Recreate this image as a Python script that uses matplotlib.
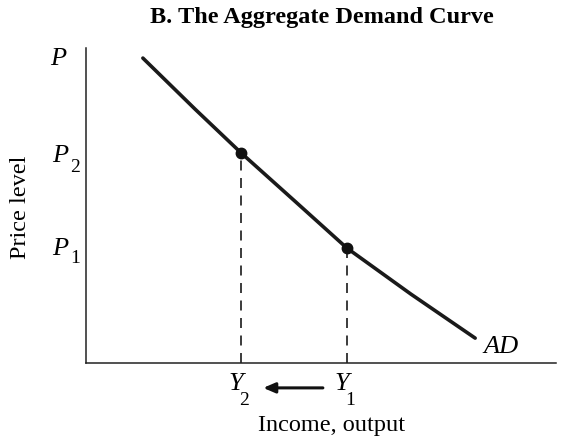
import matplotlib
matplotlib.use("Agg")
import matplotlib.pyplot as plt
from matplotlib import transforms

plt.rcParams["font.family"] = ["Liberation Serif", "DejaVu Serif"]

# Aggregate demand curve (income/output vs. price level), arbitrary units
ad_income = [12.1, 23.2, 33.0, 44.5, 55.5, 69.1, 82.8]
ad_price = [96.8, 80.6, 66.7, 51.3, 36.5, 21.9, 7.9]

# Two equilibrium points on the curve
point_names = ["2", "1"]
point_income = [33.0, 55.5]
point_price = [66.7, 36.5]

title = "B. The Aggregate Demand Curve"
x_label = "Income, output"
y_label = "Price level"

fig = plt.figure(figsize=(5.7, 4.41), dpi=100)
ax = fig.add_axes([86 / 570, 1 - 363 / 441, 470 / 570, 315 / 441])
ax.set_xlim(0, 100)
ax.set_ylim(0, 100)
for side in ("top", "right"):
    ax.spines[side].set_visible(False)
for side in ("left", "bottom"):
    ax.spines[side].set_linewidth(1.1)
    ax.spines[side].set_color("#222222")
ax.set_xticks([])
ax.set_yticks([])

# AD curve
ax.plot(ad_income, ad_price, color="#1a1a1a", lw=2.6, solid_capstyle="round",
        solid_joinstyle="round", zorder=3)

# Points and dashed drop lines
for xi, yi in zip(point_income, point_price):
    ax.plot([xi, xi], [0, yi], color="#1a1a1a", lw=1.2, ls=(0, (6, 4.5)), zorder=2)
ax.plot(point_income, point_price, "o", color="#111111", ms=7.5, zorder=4)

xdata_yaxes = transforms.blended_transform_factory(ax.transData, ax.transAxes)
xaxes_ydata = transforms.blended_transform_factory(ax.transAxes, ax.transData)

LETTER_SIZE = 19
SUB_SIZE = 14


def put(text, xy, coords, dx, dy, size, style="italic", ha="left"):
    ax.annotate(text, xy=xy, xycoords=coords, xytext=(dx, dy),
                textcoords="offset pixels", fontsize=size, fontstyle=style,
                ha=ha, va="baseline", annotation_clip=False)


# Axis-end label P
put("P", (0, 1), "axes fraction", -36, -17, LETTER_SIZE)

# Price labels P2, P1 next to the vertical axis (letter plus lowered subscript)
for name, yi, base, sub in zip(point_names, point_price, [-9, -7], [-19, -15]):
    put("P", (0, yi), xaxes_ydata, -34, base, LETTER_SIZE)
    put(name, (0, yi), xaxes_ydata, -16, sub, SUB_SIZE, style="normal")

# Income labels Y2, Y1 below the horizontal axis
for name, xi in zip(point_names, point_income):
    put("Y", (xi, 0), xdata_yaxes, -5, -27, LETTER_SIZE, ha="center")
    put(name, (xi, 0), xdata_yaxes, -2, -42, SUB_SIZE, style="normal")

# Arrow showing the fall in income from Y1 to Y2
ax.annotate("", xy=(point_income[0] + 4.7, -0.079), xycoords=xdata_yaxes,
            xytext=(point_income[1] - 5.1, -0.079), textcoords=xdata_yaxes,
            arrowprops=dict(arrowstyle="-|>,head_length=0.7,head_width=0.3",
                            color="#111111", lw=2.2, shrinkA=0, shrinkB=0),
            annotation_clip=False)

# Curve label
put("AD", (ad_income[-1], ad_price[-1]), "data", 8, -15, LETTER_SIZE)

# Titles and axis labels
fig.text(322 / 570, 1 - 18 / 441, title, fontsize=17.5, fontweight="bold",
         ha="center", va="center")
fig.text(332 / 570, 1 - 426 / 441, x_label, fontsize=17.5, ha="center", va="center")
fig.text(21 / 570, 1 - 207 / 441, y_label, fontsize=17.5, rotation=90,
         ha="center", va="center")

fig.savefig("out.png", dpi=100)
